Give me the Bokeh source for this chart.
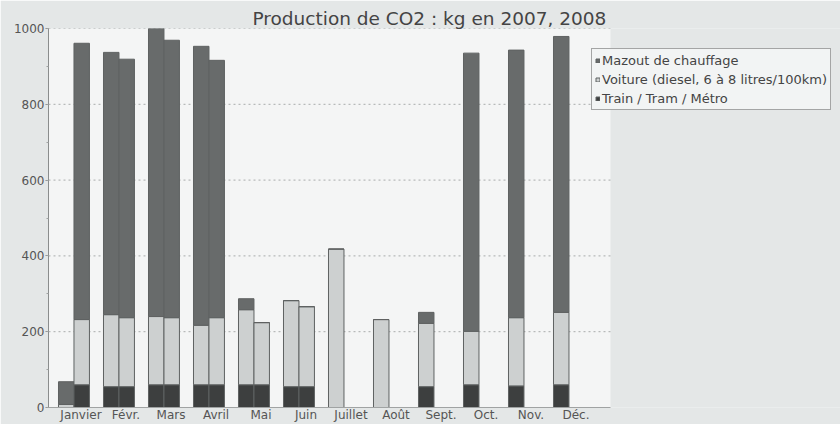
from bokeh.plotting import figure
from bokeh.models import (ColumnDataSource, Range1d, FixedTicker, Legend, LegendItem,
                          Title, BoxAnnotation)
from bokeh.embed import file_html
from bokeh.resources import INLINE

months = ["Janvier", "Févr.", "Mars", "Avril", "Mai", "Juin",
          "Juillet", "Août", "Sept.", "Oct.", "Nov.", "Déc."]

# 2007 (first bar of each month)
train_2007 = [0, 55, 60, 60, 60, 55, 0, 0, 55, 60, 57, 60]
voiture_2007 = [8, 190, 180, 157, 198, 227, 418, 232, 167, 141, 180, 191]
mazout_2007 = [60, 692, 760, 736, 29, 0, 0, 0, 29, 734, 706, 728]

# 2008 (second bar, January to June)
months_2008 = months[:6]
train_2008 = [60, 55, 60, 60, 60, 55]
voiture_2008 = [172, 182, 177, 177, 164, 211]
mazout_2008 = [729, 682, 732, 679, 0, 0]

series_labels = ["Train / Tram / Métro",
                 "Voiture (diesel, 6 à 8 litres/100km)",
                 "Mazout de chauffage"]
y_ticks = [0, 200, 400, 600, 800, 1000]

FONT = "DejaVu Sans"
colors = ["#3d3f3f", "#cdd0d0", "#686b6b"]
BAR_W = 0.344
X0 = -0.222
X_END = len(months) + 0.267

x07 = [i + BAR_W / 2 for i in range(len(months))]
x08 = [i + BAR_W * 1.5 for i in range(len(months_2008))]

src07 = ColumnDataSource(dict(x=x07, train=train_2007, voiture=voiture_2007, mazout=mazout_2007))
src08 = ColumnDataSource(dict(x=x08, train=train_2008, voiture=voiture_2008, mazout=mazout_2008))

p = figure(width=840, height=424, output_backend="svg", toolbar_location=None,
           x_range=Range1d(X0, X0 + 792 / 45), y_range=Range1d(0, 1000),
           min_border_left=48, min_border_right=0, min_border_top=28, min_border_bottom=0)

p.title = Title(text="Production de CO2 : kg en 2007, 2008", align="left", offset=204,
                text_font=FONT, text_font_size="18.5px", text_font_style="normal",
                text_color="#444444", standoff=0)

p.background_fill_color = "#e4e7e7"
p.border_fill_color = "#e4e7e7"
p.outline_line_color = None

# lighter plot area
p.add_layout(BoxAnnotation(left=X0, right=X_END, fill_color="#f4f5f5", fill_alpha=1,
                           line_color=None, level="image"))

# horizontal dotted grid lines, limited to the plot area
p.segment(x0=X0, x1=X_END, y0=y_ticks[1:], y1=y_ticks[1:], line_color="#a9acac",
          line_dash="2 3", line_width=1, level="underlay")

r07 = p.vbar_stack(["train", "voiture", "mazout"], x="x", width=BAR_W, source=src07,
                   fill_color=colors, line_color="#5f6262", line_width=1)
r08 = p.vbar_stack(["train", "voiture", "mazout"], x="x", width=BAR_W, source=src08,
                   fill_color=colors, line_color="#5f6262", line_width=1)

# axes
p.xaxis.ticker = FixedTicker(ticks=[i + 0.5 for i in range(len(months))])
p.xaxis.major_label_overrides = {i + 0.5: m for i, m in enumerate(months)}
p.xaxis.bounds = (X0, X_END)
p.xaxis.major_tick_out = 0
p.xaxis.major_tick_in = 0
p.xaxis.minor_tick_out = 0
p.xaxis.minor_tick_in = 0
p.xaxis.axis_line_color = "#a0a3a3"
p.xaxis.major_label_standoff = 0
p.xaxis.major_label_text_font = FONT
p.xaxis.major_label_text_font_size = "12px"
p.xaxis.major_label_text_color = "#555555"

p.yaxis.ticker = FixedTicker(ticks=y_ticks, minor_ticks=list(range(0, 1001, 100)))
p.yaxis.major_tick_out = 3
p.yaxis.major_tick_in = 0
p.yaxis.minor_tick_out = 2
p.yaxis.minor_tick_in = 0
p.yaxis.axis_line_color = "#8a8d8d"
p.yaxis.major_tick_line_color = "#8a8d8d"
p.yaxis.minor_tick_line_color = "#a0a3a3"
p.yaxis.major_label_standoff = 1
p.yaxis.major_label_text_font = FONT
p.yaxis.major_label_text_font_size = "12px"
p.yaxis.major_label_text_color = "#555555"

p.xgrid.grid_line_color = None
p.ygrid.grid_line_color = None

legend = Legend(items=[
    LegendItem(label=series_labels[2], renderers=[r07[2]]),
    LegendItem(label=series_labels[1], renderers=[r07[1]]),
    LegendItem(label=series_labels[0], renderers=[r07[0]]),
], location=(543, 297))
legend.background_fill_color = "#f2f4f4"
legend.background_fill_alpha = 1
legend.border_line_color = "#555555"
legend.border_line_width = 1
legend.label_text_font = FONT
legend.label_text_font_size = "13px"
legend.label_text_color = "#444444"
legend.glyph_width = 5
legend.glyph_height = 5
legend.label_standoff = 2
legend.label_height = 16
legend.spacing = 3
legend.padding = 3
legend.margin = 0
p.add_layout(legend, "center")

open("out.html", "w").write(file_html(p, INLINE))
